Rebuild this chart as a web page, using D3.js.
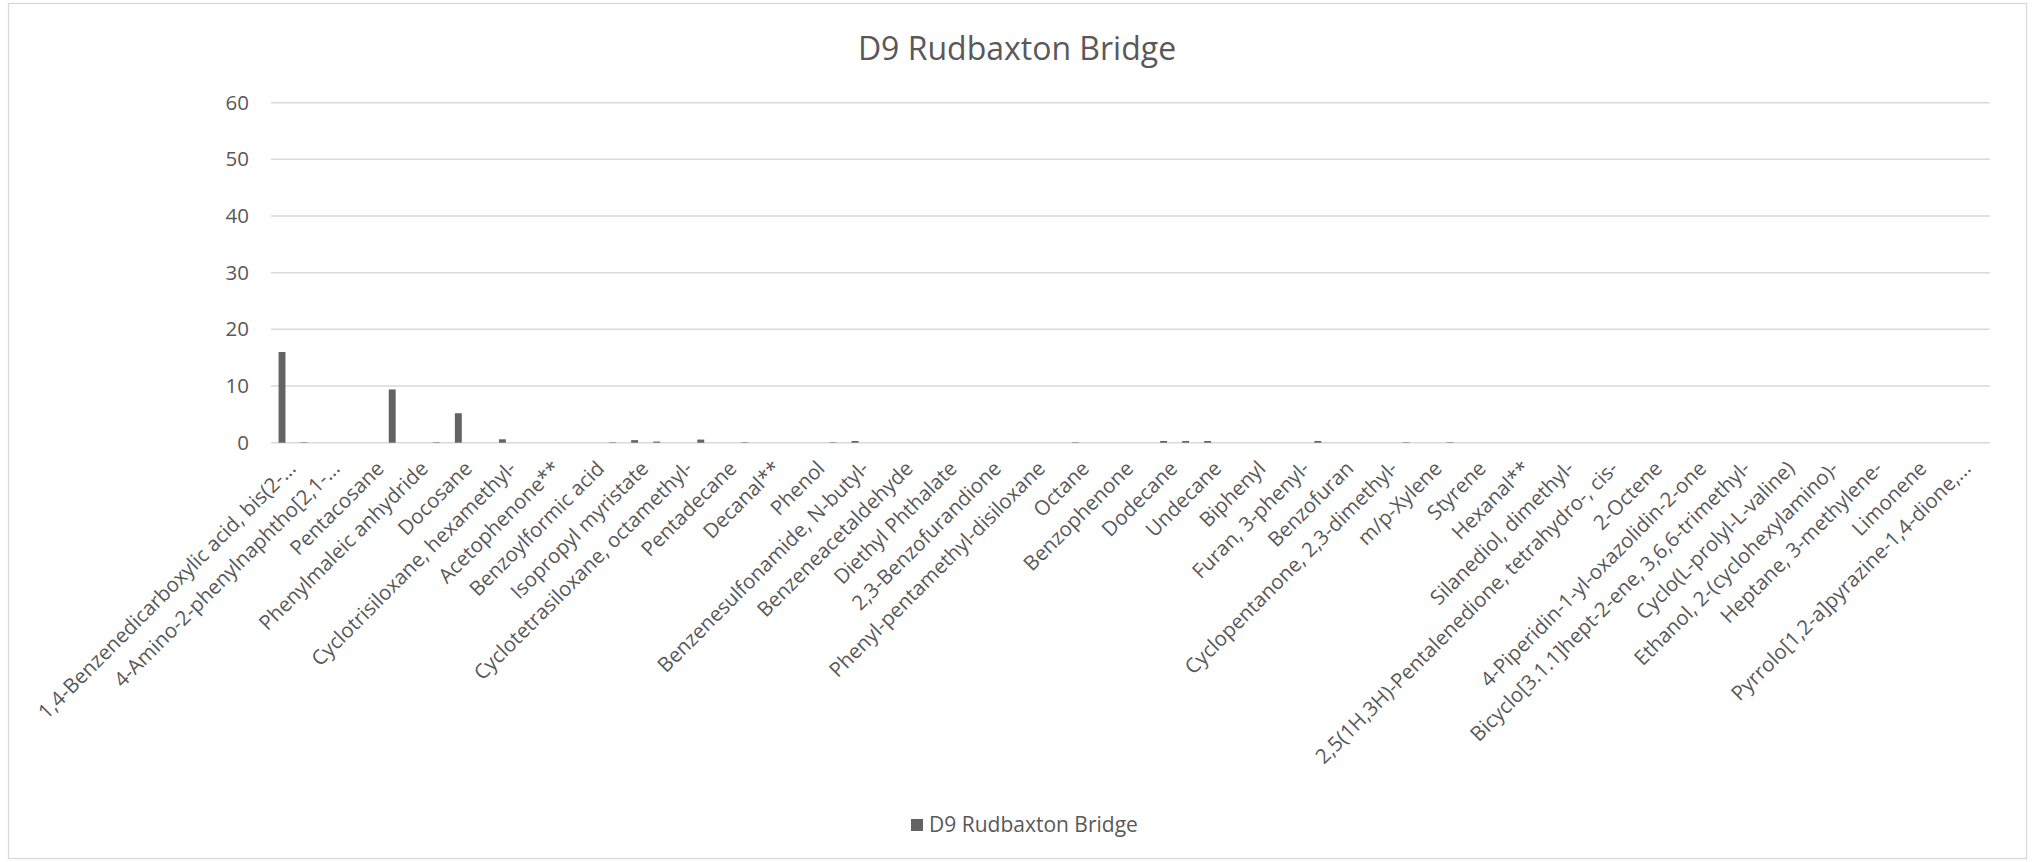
<!DOCTYPE html>
<html>
<head>
<meta charset="utf-8">
<script src="https://cdn.jsdelivr.net/npm/d3@7/dist/d3.min.js"></script>
<style>
  html, body { margin: 0; padding: 0; background: #ffffff; }
  svg { display: block; }
  text { font-family: "Open Sans", "Noto Sans", sans-serif; fill: #595959; }
</style>
</head>
<body>
<svg id="chart" width="2033" height="862"></svg>
<script>
// ---- Data ----
const title = "D9 Rudbaxton Bridge";
const seriesName = "D9 Rudbaxton Bridge";

// 78 categories; only every other label is shown on the axis (the rest are hidden by label skipping)
const shownLabels = [
  "1,4-Benzenedicarboxylic acid, bis(2-...",
  "4-Amino-2-phenylnaphtho[2,1-...",
  "Pentacosane",
  "Phenylmaleic anhydride",
  "Docosane",
  "Cyclotrisiloxane, hexamethyl-",
  "Acetophenone**",
  "Benzoylformic acid",
  "Isopropyl myristate",
  "Cyclotetrasiloxane, octamethyl-",
  "Pentadecane",
  "Decanal**",
  "Phenol",
  "Benzenesulfonamide, N-butyl-",
  "Benzeneacetaldehyde",
  "Diethyl Phthalate",
  "2,3-Benzofurandione",
  "Phenyl-pentamethyl-disiloxane",
  "Octane",
  "Benzophenone",
  "Dodecane",
  "Undecane",
  "Biphenyl",
  "Furan, 3-phenyl-",
  "Benzofuran",
  "Cyclopentanone, 2,3-dimethyl-",
  "m/p-Xylene",
  "Styrene",
  "Hexanal**",
  "Silanediol, dimethyl-",
  "2,5(1H,3H)-Pentalenedione, tetrahydro-, cis-",
  "2-Octene",
  "4-Piperidin-1-yl-oxazolidin-2-one",
  "Bicyclo[3.1.1]hept-2-ene, 3,6,6-trimethyl-",
  "Cyclo(L-prolyl-L-valine)",
  "Ethanol, 2-(cyclohexylamino)-",
  "Heptane, 3-methylene-",
  "Limonene",
  "Pyrrolo[1,2-a]pyrazine-1,4-dione,..."
];

// one value per category (78), in axis order
const values = [
  16.0, 0.08, 0, 0, 0, 9.4, 0, 0.08, 5.2, 0,
  0.6, 0, 0, 0, 0, 0.08, 0.45, 0.2, 0, 0.55,
  0, 0.08, 0, 0, 0, 0.08, 0.3, 0, 0, 0,
  0, 0, 0, 0, 0, 0, 0.08, 0, 0, 0,
  0.3, 0.3, 0.3, 0, 0, 0, 0, 0.3, 0, 0,
  0, 0.08, 0, 0.08, 0, 0, 0, 0, 0, 0,
  0, 0, 0, 0, 0, 0, 0, 0, 0, 0,
  0, 0, 0, 0, 0, 0, 0, 0
];

const yTicks = [0, 10, 20, 30, 40, 50, 60];

// ---- Layout ----
const W = 2033, H = 862;
const plot = { left: 271, right: 1990, top: 102.7, bottom: 442.7 };
const FONT = '"Open Sans", sans-serif';

const svg = d3.select("#chart");

// chart border
svg.append("rect")
  .attr("x", 8.5).attr("y", 3.5)
  .attr("width", 2018).attr("height", 855)
  .attr("fill", "#ffffff")
  .attr("stroke", "#d9d9d9")
  .attr("stroke-width", 1.3);

const idx = d3.range(values.length);
const gap = 2.19 / 3.19; // Excel gap width 219%
const x = d3.scaleBand()
  .domain(idx)
  .range([plot.left, plot.right])
  .paddingInner(gap)
  .paddingOuter(gap / 2);

const y = d3.scaleLinear()
  .domain([0, 60])
  .range([plot.bottom, plot.top]);

// gridlines
svg.append("g")
  .selectAll("line")
  .data(yTicks)
  .join("line")
  .attr("x1", plot.left).attr("x2", plot.right)
  .attr("y1", d => y(d)).attr("y2", d => y(d))
  .attr("stroke", "#d9d9d9")
  .attr("stroke-width", 1.5);

// y axis labels via d3 axis
const yAxis = d3.axisLeft(y).tickValues(yTicks).tickSize(0).tickPadding(22);
const gy = svg.append("g")
  .attr("transform", `translate(${plot.left},0)`)
  .call(yAxis);
gy.select(".domain").remove();
gy.selectAll("text")
  .attr("font-size", 20.5)
  .style("font-family", FONT)
  .attr("fill", "#595959");

// bars
svg.append("g")
  .selectAll("rect")
  .data(values)
  .join("rect")
  .attr("x", (d, i) => x(i))
  .attr("y", d => y(d))
  .attr("width", x.bandwidth())
  .attr("height", d => y(0) - y(d))
  .attr("fill", "#636363");

// x axis labels (every other category)
const xAxis = d3.axisBottom(x)
  .tickValues(idx.filter(i => i % 2 === 0))
  .tickFormat(i => shownLabels[i / 2])
  .tickSize(0);
const gx = svg.append("g")
  .attr("transform", `translate(0,${plot.bottom})`)
  .call(xAxis);
gx.select(".domain").remove();
gx.selectAll(".tick text")
  .attr("font-size", 20.5)
  .style("font-family", FONT)
  .attr("fill", "#595959")
  .attr("text-anchor", "end")
  .attr("x", 0).attr("y", 0).attr("dy", "0.35em")
  .attr("transform", "translate(10,22) rotate(-45)");

// title
svg.append("text")
  .attr("x", 1017).attr("y", 60)
  .attr("text-anchor", "middle")
  .attr("font-size", 32)
  .text(title);

// legend
const lg = svg.append("g");
lg.append("rect")
  .attr("x", 911).attr("y", 819)
  .attr("width", 12).attr("height", 12)
  .attr("fill", "#636363");
lg.append("text")
  .attr("x", 929).attr("y", 825)
  .attr("dy", "0.35em")
  .attr("font-size", 21)
  .text(seriesName);
</script>
</body>
</html>
